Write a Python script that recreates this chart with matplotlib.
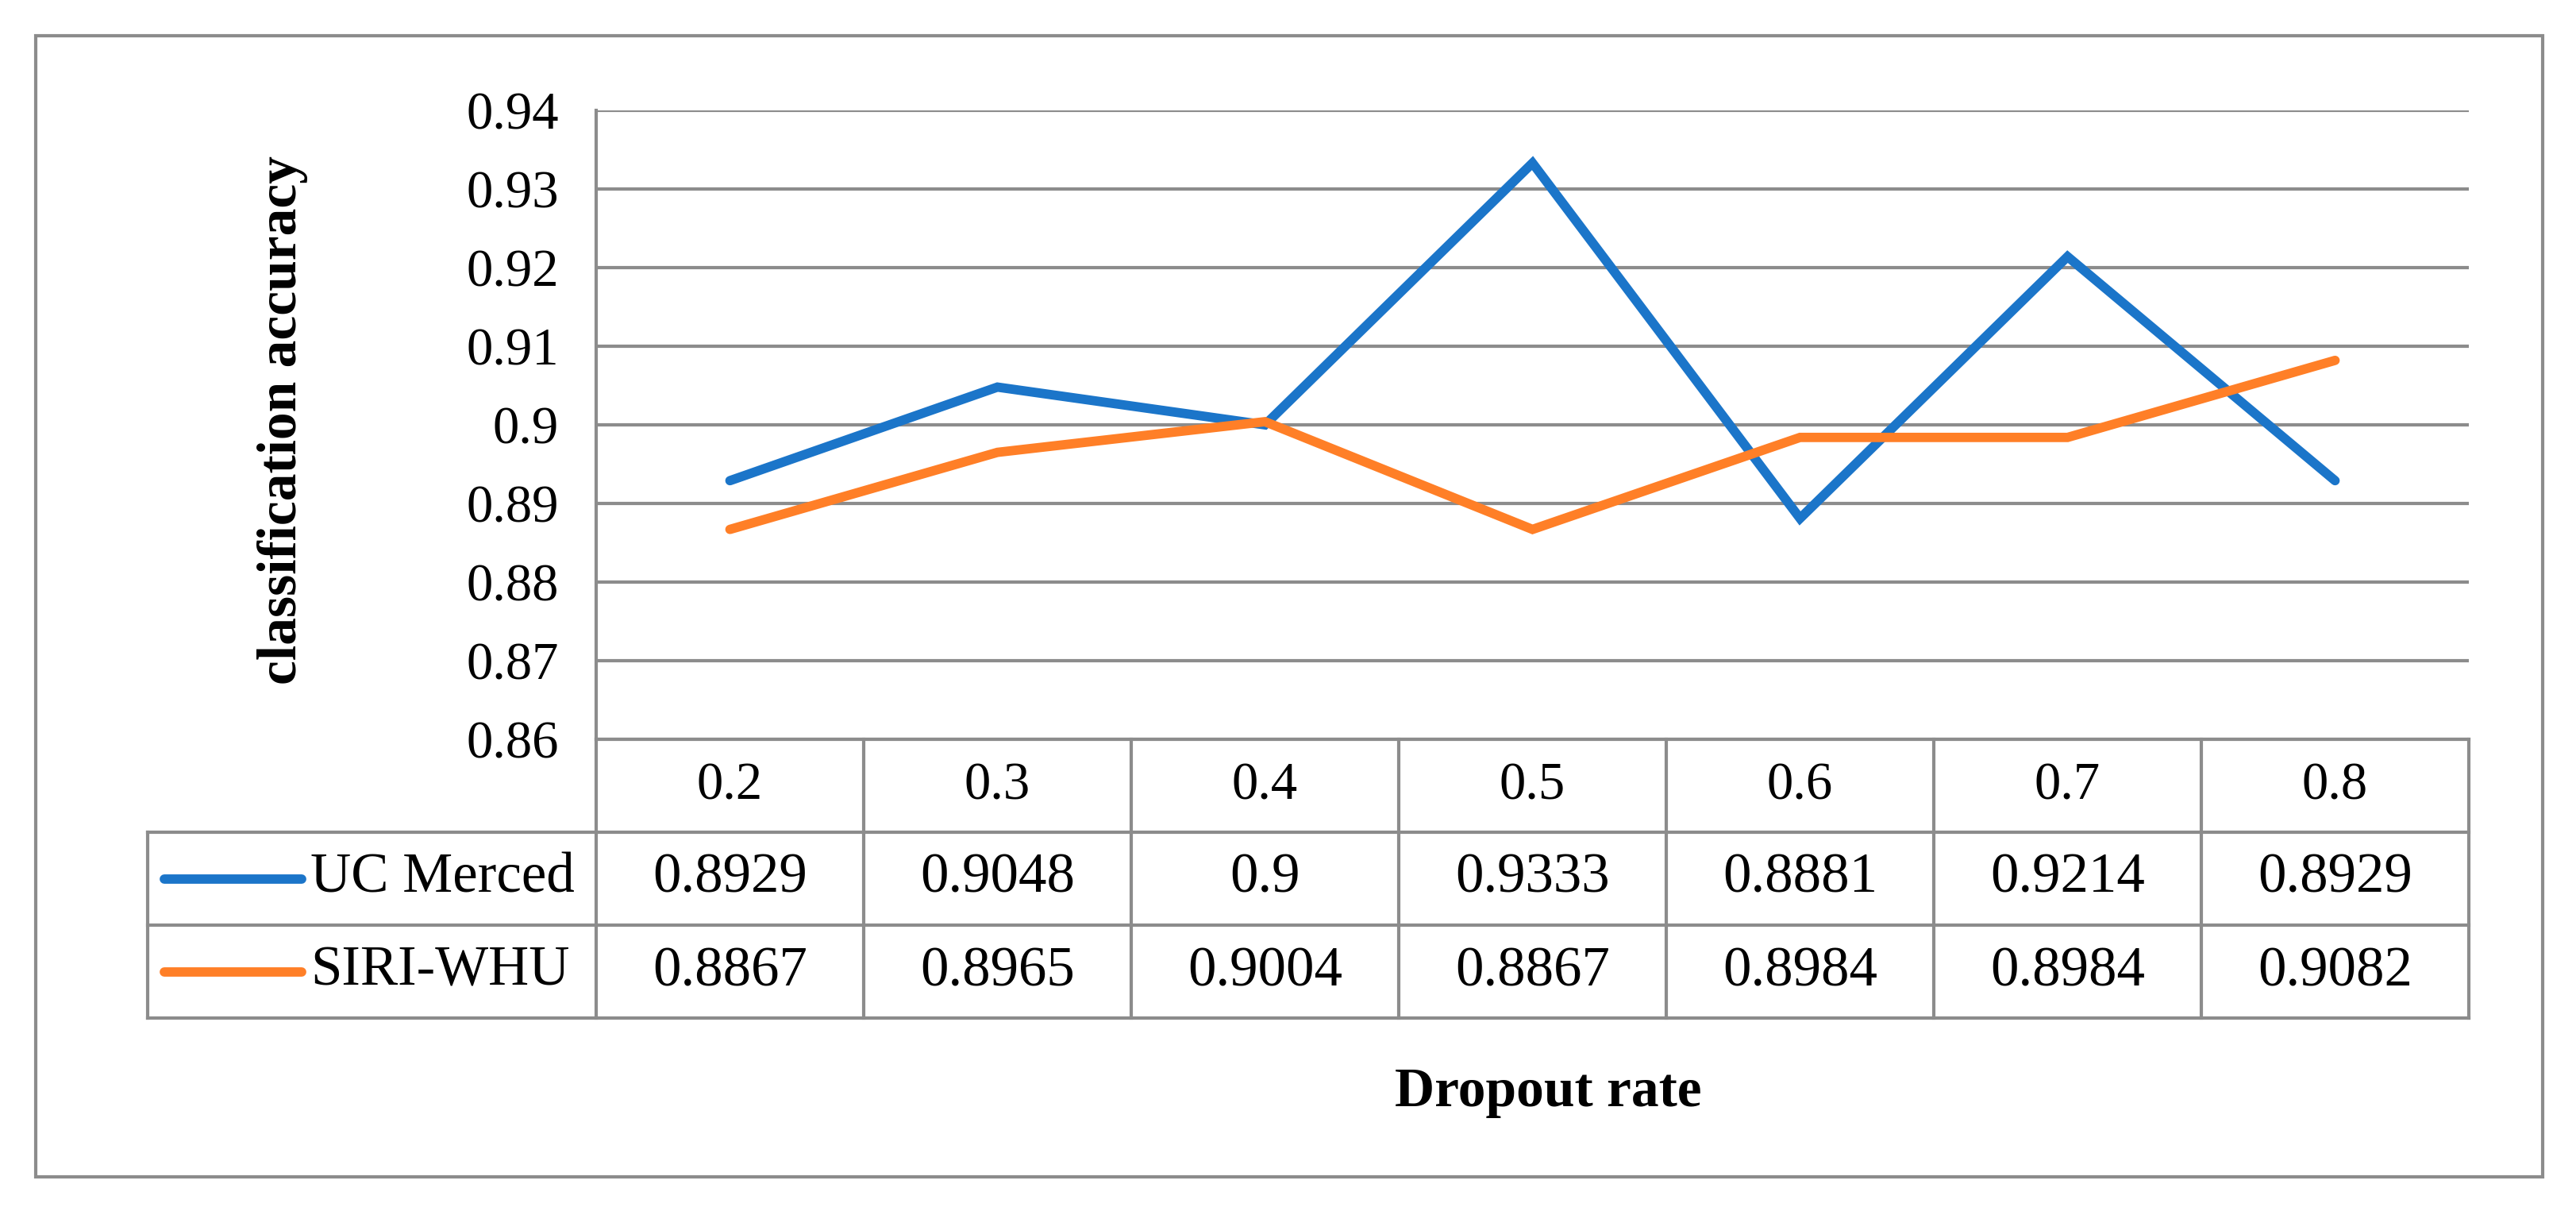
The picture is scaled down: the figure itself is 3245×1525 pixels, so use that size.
import matplotlib.pyplot as plt
from matplotlib.patches import Rectangle

dropout = ["0.2", "0.3", "0.4", "0.5", "0.6", "0.7", "0.8"]
uc_merced = [0.8929, 0.9048, 0.9, 0.9333, 0.8881, 0.9214, 0.8929]
siri_whu = [0.8867, 0.8965, 0.9004, 0.8867, 0.8984, 0.8984, 0.9082]
uc_labels = ["0.8929", "0.9048", "0.9", "0.9333", "0.8881", "0.9214", "0.8929"]
siri_labels = ["0.8867", "0.8965", "0.9004", "0.8867", "0.8984", "0.8984", "0.9082"]
series_names = ["UC Merced", "SIRI-WHU"]
yticks = [0.86, 0.87, 0.88, 0.89, 0.90, 0.91, 0.92, 0.93, 0.94]
ytick_labels = ["0.86", "0.87", "0.88", "0.89", "0.9", "0.91", "0.92", "0.93", "0.94"]

blue = "#1B75C9"
orange = "#FF7F27"
gray = "#8C8C8C"

plt.rcParams['font.family'] = ['Liberation Serif', 'DejaVu Serif']

W, H = 3245, 1525
fig = plt.figure(figsize=(W / 100, H / 100), dpi=100)

# pixel layout
px_left, px_right = 751, 3110
px_top, px_bottom = 139, 931
tbl_left = 186
row_h = 117
n = len(dropout)
col_w = (px_right - px_left) / n

def fx(p):
    return p / W

def fy(p):
    return 1 - p / H

# outer frame
fig.patches.append(Rectangle((fx(45), fy(1482)), fx(3203) - fx(45), fy(45) - fy(1482),
                             transform=fig.transFigure, fill=False, edgecolor=gray, linewidth=3))

ax = fig.add_axes([fx(px_left), fy(px_bottom), fx(px_right) - fx(px_left), fy(px_top) - fy(px_bottom)])
x = list(range(n))
ax.plot(x, uc_merced, color=blue, linewidth=8.5, solid_capstyle='round', solid_joinstyle='miter', zorder=3)
ax.plot(x, siri_whu, color=orange, linewidth=8.5, solid_capstyle='round', solid_joinstyle='miter', zorder=3)
ax.set_xlim(-0.5, n - 0.5)
ax.set_ylim(0.86, 0.94)
ax.set_yticks(yticks)
ax.set_yticklabels(ytick_labels, fontsize=48)
ax.set_xticks([])
ax.tick_params(axis='y', length=0, pad=34)
ax.yaxis.grid(True, color=gray, linewidth=3)
ax.set_axisbelow(True)
for s in ['top', 'right', 'bottom']:
    ax.spines[s].set_visible(False)
ax.spines['left'].set_color(gray)
ax.spines['left'].set_linewidth(3)

fig.text(fx(356), fy(529), "classification accuracy", rotation=90, ha='center', va='center',
         fontsize=50, fontweight='bold')

# table below the plot
extra = (px_left - tbl_left) / col_w
tax = fig.add_axes([fx(tbl_left), fy(px_bottom + 3 * row_h), fx(px_right) - fx(tbl_left), (3 * row_h) / H])
tax.set_xlim(-0.5 - extra, n - 0.5)
tax.set_ylim(3, 0)
tax.axis('off')
lk = dict(color=gray, linewidth=3, clip_on=False, solid_capstyle='projecting')
# horizontal lines
tax.plot([-0.5, n - 0.5], [0, 0], **lk)
for r in [1, 2, 3]:
    tax.plot([-0.5 - extra, n - 0.5], [r, r], **lk)
# vertical lines
for c in range(n + 1):
    tax.plot([c - 0.5, c - 0.5], [0, 3], **lk)
tax.plot([-0.5 - extra, -0.5 - extra], [1, 3], **lk)

for i in range(n):
    tax.text(i, 0.5, dropout[i], ha='center', va='center', fontsize=48)
    tax.text(i, 1.5, uc_labels[i], ha='center', va='center', fontsize=51)
    tax.text(i, 2.5, siri_labels[i], ha='center', va='center', fontsize=51)

leg_x0 = -0.5 - extra + (207 - tbl_left) / col_w
leg_x1 = -0.5 - extra + (380 - tbl_left) / col_w
txt_x = -0.5 - extra + (391 - tbl_left) / col_w
for r, name, col in [(1.5, series_names[0], blue), (2.5, series_names[1], orange)]:
    tax.plot([leg_x0, leg_x1], [r, r], color=col, linewidth=8.5, solid_capstyle='round', clip_on=False)
    tax.text(txt_x, r, name, ha='left', va='center', fontsize=51)

fig.text(fx(1950), fy(1376), "Dropout rate", ha='center', va='center',
         fontsize=50, fontweight='bold')

fig.savefig("out.png", dpi=100)
